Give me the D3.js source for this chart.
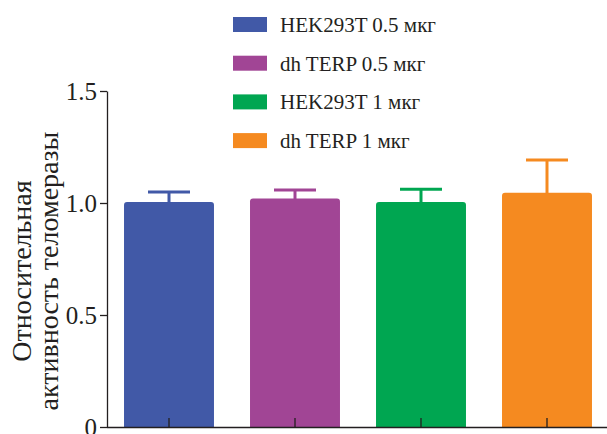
<!DOCTYPE html>
<html>
<head>
<meta charset="utf-8">
<script src="https://cdn.jsdelivr.net/npm/d3@7"></script>
<style>
	body { margin: 0; background: #fff; }
	svg text { font-family: "Liberation Serif", "Times New Roman", Times, serif; fill: #231f20; }
</style>
</head>
<body>
<div id="chart"></div>
<script>
var SERIF = "'Liberation Serif', 'Times New Roman', Times, serif";

var groups = ["HEK293T 0.5 мкг", "dh TERP 0.5 мкг", "HEK293T 1 мкг", "dh TERP 1 мкг"];
var means = [1.005, 1.02, 1.005, 1.046];
var errors = [0.044, 0.038, 0.056, 0.146];
var colours = ["#4159a7", "#a14595", "#00a651", "#f58a20"];
var yTicks = [0, 0.5, 1.0, 1.5];
var yTickLabels = ["0", "0.5", "1.0", "1.5"];
var yTitle = ["Относительная", "активность теломеразы"];

var width = 607, height = 434;

var svg = d3.select("#chart")
	.append("svg")
	.attr("width", width)
	.attr("height", height);

var x = d3.scaleBand()
	.domain(groups)
	.range([106, 610])
	.paddingInner(0.286)
	.paddingOuter(0.143);

var y = d3.scaleLinear()
	.domain([0, 1.5])
	.range([427, 91]);

// bars with slightly rounded tops
var barPath = function(_x, _y, _w, _h)	{
	var r = 3;
	return "M" + _x + "," + (_y + _h) +
		"V" + (_y + r) +
		"Q" + _x + "," + _y + " " + (_x + r) + "," + _y +
		"H" + (_x + _w - r) +
		"Q" + (_x + _w) + "," + _y + " " + (_x + _w) + "," + (_y + r) +
		"V" + (_y + _h) + "Z";
}

svg.selectAll(".bar")
	.data(groups)
	.enter().append("path")
	.attr("class", "bar")
	.style("fill", function(_d, _i) { return colours[_i]; })
	.attr("d", function(_d, _i) {
		return barPath(x(_d), y(means[_i]), x.bandwidth(), y(0) - y(means[_i]));
	});

// error bars
var err = svg.selectAll(".err")
	.data(groups)
	.enter().append("g")
	.attr("class", "err")
	.style("stroke", function(_d, _i) { return colours[_i]; })
	.style("stroke-width", 3);

err.append("line")
	.attr("x1", function(_d) { return x(_d) + x.bandwidth() / 2; })
	.attr("x2", function(_d) { return x(_d) + x.bandwidth() / 2; })
	.attr("y1", function(_d, _i) { return y(means[_i]) + 1; })
	.attr("y2", function(_d, _i) { return y(means[_i] + errors[_i]); });

err.append("line")
	.attr("x1", function(_d) { return x(_d) + x.bandwidth() / 2 - 21; })
	.attr("x2", function(_d) { return x(_d) + x.bandwidth() / 2 + 21; })
	.attr("y1", function(_d, _i) { return y(means[_i] + errors[_i]); })
	.attr("y2", function(_d, _i) { return y(means[_i] + errors[_i]); });

// y axis
var yAxis = svg.append("g")
	.attr("transform", "translate(107, 0)")
	.call(d3.axisLeft(y)
		.tickValues(yTicks)
		.tickFormat(function(_d, _i) { return yTickLabels[_i]; })
		.tickSize(7)
		.tickPadding(3)
		.tickSizeOuter(0));

yAxis.attr("font-family", null);
yAxis.select(".domain").style("stroke", "#231f20").style("stroke-width", 1.3);
yAxis.selectAll(".tick line").style("stroke", "#231f20").style("stroke-width", 1.3);
yAxis.selectAll(".tick text")
	.style("font-family", SERIF)
	.style("font-size", "25px")
	.style("fill", "#231f20");

// x axis, ticks point inward
var xAxis = svg.append("g")
	.attr("transform", "translate(0, 427)")
	.call(d3.axisBottom(x)
		.tickSize(-9)
		.tickSizeOuter(0)
		.tickFormat(""));

xAxis.select(".domain")
	.attr("d", "M107,0.5H607")
	.style("stroke", "#231f20").style("stroke-width", 1.5);
xAxis.selectAll(".tick line").style("stroke", "#231f20").style("stroke-width", 1.3);

// y title
svg.append("text")
	.attr("transform", "translate(31, 271) rotate(-90)")
	.attr("text-anchor", "middle")
	.style("font-family", SERIF)
	.style("font-size", "28px")
	.text(yTitle[0]);

svg.append("text")
	.attr("transform", "translate(58, 271) rotate(-90)")
	.attr("text-anchor", "middle")
	.style("font-family", SERIF)
	.style("font-size", "28px")
	.text(yTitle[1]);

// legend
var legend = svg.selectAll(".legendGroup")
	.data(groups)
	.enter().append("g")
	.attr("class", "legendGroup")
	.attr("transform", function(_d, _i) {
		return "translate(233, " + (17 + _i * 38.7) + ")";
	});

legend.append("rect")
	.style("fill", function(_d, _i) { return colours[_i]; })
	.attr("width", 34)
	.attr("height", 15);

legend.append("text")
	.attr("x", 47)
	.attr("y", 15)
	.style("font-family", SERIF)
	.style("font-size", "21px")
	.text(function(_d) { return _d; });
</script>
</body>
</html>
